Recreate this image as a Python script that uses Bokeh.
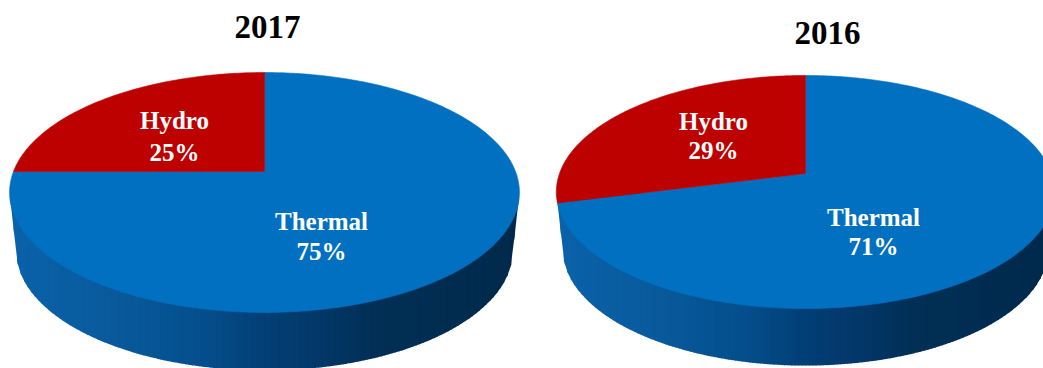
import math

import numpy as np
from bokeh.core.properties import value
from bokeh.embed import file_html
from bokeh.models import Range1d
from bokeh.plotting import figure
from bokeh.resources import INLINE

years = ["2017", "2016"]
categories = ["Hydro", "Thermal"]
hydro_share = [25, 29]
thermal_share = [75, 71]

RED = "#bd0000"
BLUE = "#0170c1"
SERIF_BOLD = dict(text_font=value("Liberation Serif"), text_font_style="bold")

# Shading of the rim, from its left end to its right end.
RIM_POS = [0.00, 0.20, 0.38, 0.50, 0.60, 0.72, 0.88, 1.00]
RIM_R = [10, 9, 4, 2, 3, 1, 0, 0]
RIM_G = [98, 90, 78, 63, 56, 47, 44, 40]
RIM_B = [170, 156, 140, 117, 106, 85, 80, 74]

# Layout of each tilted disc in page pixels.
discs = [
    dict(cx=264, cy=171, a=251, b=116.3, k=0.175, depth=58, shrink=0.975,
         title=(267, 26), hydro=(174, 120, 152), thermal=(321, 221, 251)),
    dict(cx=805, cy=173, a=246, b=113.6, k=0.159, depth=57, shrink=0.975,
         title=(827, 32), hydro=(713, 121, 150), thermal=(873, 217, 246)),
]

p = figure(width=1043, height=368, output_backend="svg", toolbar_location=None,
           x_range=Range1d(0, 1043), y_range=Range1d(368, 0),
           min_border=0, background_fill_color="white", outline_line_color=None)
p.axis.visible = False
p.grid.visible = False


def rim_point(d, deg):
    """Project a point of the unit circle on to the tilted disc."""
    t = math.radians(deg)
    u, v = math.cos(t), math.sin(t)
    w = 1 + d["k"] * v
    return d["cx"] + d["a"] * u / w, d["cy"] - d["b"] * v / w


def rim_colour(f):
    r = np.interp(f, RIM_POS, RIM_R)
    g = np.interp(f, RIM_POS, RIM_G)
    b = np.interp(f, RIM_POS, RIM_B)
    return "#%02x%02x%02x" % (round(r), round(g), round(b))


def sector(d, start, end):
    """Outline of a pie sector between two angles, apex included."""
    n = max(2, int(abs(end - start)))
    pts = [rim_point(d, start + (end - start) * i / n) for i in range(n + 1)]
    return [d["cx"]] + [q[0] for q in pts], [d["cy"]] + [q[1] for q in pts]


def rim_strips(d):
    """Vertical strips filling the side wall, one shade per strip."""
    top = [rim_point(d, 180 + i) for i in range(-30, 211)]
    left = min(top)
    right = max(top)
    lower = [
        (d["cx"] + (x - d["cx"]) * d["shrink"], y + d["depth"])
        for x, y in (rim_point(d, 180 + i) for i in range(0, 181))
    ]
    # The wall's outline follows the lower rim and meets the top face's widest points.
    start = min(range(len(lower)), key=lambda i: lower[i][0])
    stop = max(range(len(lower)), key=lambda i: lower[i][0])
    outline = [left] + lower[start:stop + 1] + [right]
    ox = np.array([q[0] for q in outline])
    oy = np.array([q[1] for q in outline])
    # Strips begin level with the widest points, hidden behind the top face.
    ceiling = left[1] + 1
    inset = 0.5
    edges = np.arange(left[0] + inset, right[0] - inset + 3.5, 3.5)
    for x0, x1 in zip(edges[:-1], edges[1:]):
        x2 = min(x1 + 0.8, right[0] - inset)
        y0, y2 = np.interp([x0, x2], ox, oy)
        f = ((x0 + x1) / 2 - left[0]) / (right[0] - left[0])
        p.patch([x0, x2, x2, x0], [ceiling, ceiling, y2, y0],
                fill_color=rim_colour(f), line_color=None)


for d, year, hydro, thermal in zip(discs, years, hydro_share, thermal_share):
    rim_strips(d)

    # Top face: the sectors start at twelve o'clock and run anticlockwise.
    split = 90 + hydro / (hydro + thermal) * 360
    xs, ys = sector(d, split, 450)
    p.patch(xs, ys, fill_color=BLUE, line_color=BLUE, line_width=0.6)
    xs, ys = sector(d, 90, split)
    p.patch(xs, ys, fill_color=RED, line_color=RED, line_width=0.6)

    # Title and sector labels.
    tx, ty = d["title"]
    p.text([tx], [ty], text=[year], text_color="black", text_font_size="33px",
           text_align="center", text_baseline="middle", **SERIF_BOLD)
    hx, hy0, hy1 = d["hydro"]
    gx, gy0, gy1 = d["thermal"]
    entries = [
        (hx, hy0, categories[0]), (hx, hy1, f"{hydro}%"),
        (gx, gy0, categories[1]), (gx, gy1, f"{thermal}%"),
    ]
    for lx, ly, label in entries:
        p.text([lx], [ly], text=[label], text_color="white", text_font_size="25px",
               text_align="center", text_baseline="middle", **SERIF_BOLD)

open("out.html", "w").write(file_html(p, INLINE))
